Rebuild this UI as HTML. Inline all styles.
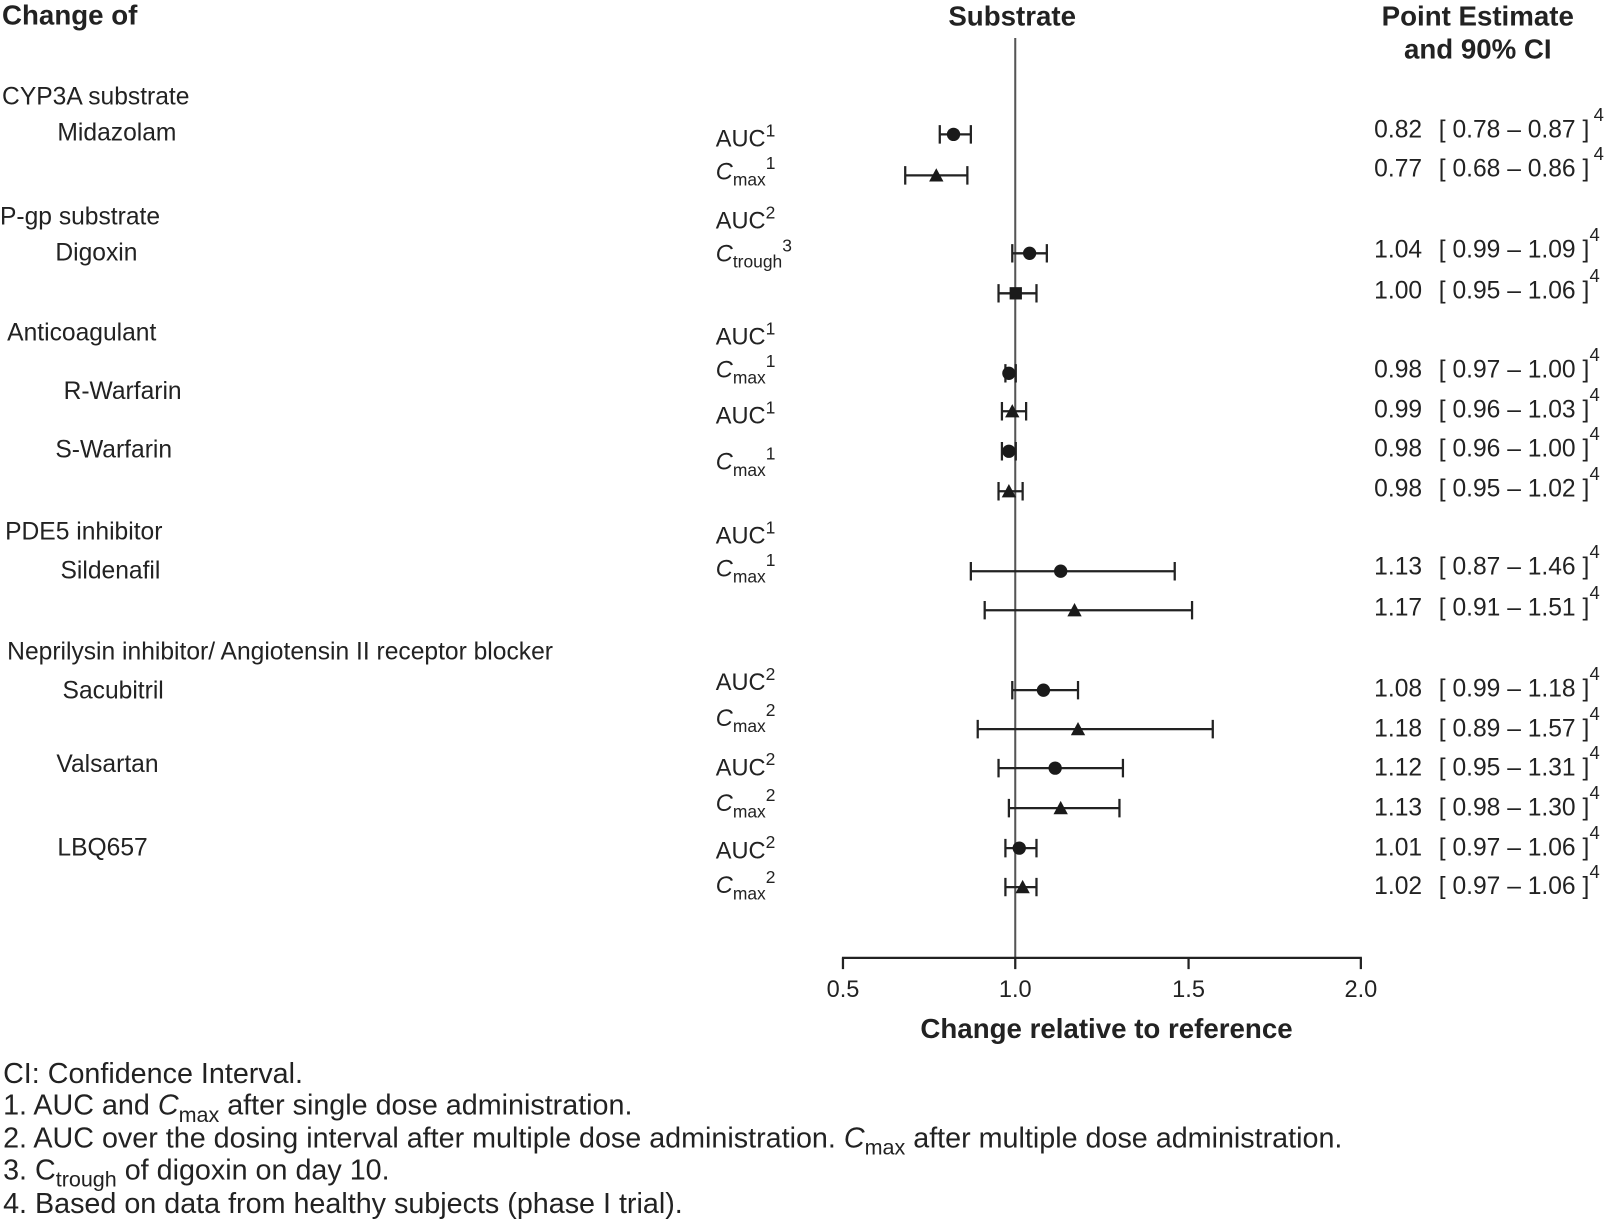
<!DOCTYPE html>
<html><head><meta charset="utf-8"><style>
html,body{margin:0;padding:0;background:#fff;}
svg{display:block;}
text{font-family:"Liberation Sans",Arial,sans-serif;fill:#222;}
.b{font-weight:bold;font-size:27px;}
.t{font-size:24px;}
.m{font-size:23px;}
.r{font-size:24px;}
.f{font-size:28px;}
.s{font-size:17px;}
.s4{font-size:18px;}
</style></head><body>
<svg width="1608" height="1221" viewBox="0 0 1568 1190.6" xmlns="http://www.w3.org/2000/svg">
<text x="2" y="24" class="b">Change of</text>
<text x="987" y="25" text-anchor="middle" class="b">Substrate</text>
<text x="1441" y="25" text-anchor="middle" class="b">Point Estimate</text>
<text x="1441" y="57" text-anchor="middle" class="b">and 90% CI</text>
<g class="t">
<text x="2" y="102">CYP3A substrate</text>
<text x="56" y="137">Midazolam</text>
<text x="0" y="219">P-gp substrate</text>
<text x="54" y="254">Digoxin</text>
<text x="7" y="332">Anticoagulant</text>
<text x="62" y="389">R-Warfarin</text>
<text x="54" y="446">S-Warfarin</text>
<text x="5" y="526">PDE5 inhibitor</text>
<text x="59" y="564">Sildenafil</text>
<text x="7" y="643">Neprilysin inhibitor/ Angiotensin II receptor blocker</text>
<text x="61" y="681">Sacubitril</text>
<text x="55" y="753">Valsartan</text>
<text x="56" y="834">LBQ657</text>
</g>
<g class="m">
<text x="698" y="143">AUC<tspan class="s" dy="-10">1</tspan></text>
<text x="698" y="175"><tspan font-style="italic">C</tspan><tspan class="s" dy="6">max</tspan><tspan class="s" dy="-16">1</tspan></text>
<text x="698" y="223">AUC<tspan class="s" dy="-10">2</tspan></text>
<text x="698" y="255"><tspan font-style="italic">C</tspan><tspan class="s" dy="6">trough</tspan><tspan class="s" dy="-16">3</tspan></text>
<text x="698" y="336">AUC<tspan class="s" dy="-10">1</tspan></text>
<text x="698" y="368"><tspan font-style="italic">C</tspan><tspan class="s" dy="6">max</tspan><tspan class="s" dy="-16">1</tspan></text>
<text x="698" y="413">AUC<tspan class="s" dy="-10">1</tspan></text>
<text x="698" y="458"><tspan font-style="italic">C</tspan><tspan class="s" dy="6">max</tspan><tspan class="s" dy="-16">1</tspan></text>
<text x="698" y="530">AUC<tspan class="s" dy="-10">1</tspan></text>
<text x="698" y="562"><tspan font-style="italic">C</tspan><tspan class="s" dy="6">max</tspan><tspan class="s" dy="-16">1</tspan></text>
<text x="698" y="673">AUC<tspan class="s" dy="-10">2</tspan></text>
<text x="698" y="708"><tspan font-style="italic">C</tspan><tspan class="s" dy="6">max</tspan><tspan class="s" dy="-16">2</tspan></text>
<text x="698" y="756">AUC<tspan class="s" dy="-10">2</tspan></text>
<text x="698" y="791"><tspan font-style="italic">C</tspan><tspan class="s" dy="6">max</tspan><tspan class="s" dy="-16">2</tspan></text>
<text x="698" y="837">AUC<tspan class="s" dy="-10">2</tspan></text>
<text x="698" y="871"><tspan font-style="italic">C</tspan><tspan class="s" dy="6">max</tspan><tspan class="s" dy="-16">2</tspan></text>
</g>
<g stroke="#555" stroke-width="2">
<line x1="990" y1="37" x2="990" y2="934"/>
</g>
<g stroke="#222" stroke-width="2.2" fill="none">
<line x1="821" y1="934" x2="1328" y2="934"/>
<line x1="822" y1="934" x2="822" y2="945"/>
<line x1="990" y1="934" x2="990" y2="945"/>
<line x1="1159" y1="934" x2="1159" y2="945"/>
<line x1="1327" y1="934" x2="1327" y2="945"/>
<path d="M916.4 131H946.7M916.4 122V140M946.7 122V140"/>
<path d="M882.7 171H943.3M882.7 162V180M943.3 162V180"/>
<path d="M987.1 247H1020.8M987.1 238V256M1020.8 238V256"/>
<path d="M973.7 286H1010.7M973.7 277V295M1010.7 277V295"/>
<path d="M980.4 364H990.5M980.4 355V373M990.5 355V373"/>
<path d="M977 401H1000.6M977 392V410M1000.6 392V410"/>
<path d="M977 440H990.5M977 431V449M990.5 431V449"/>
<path d="M973.7 479H997.2M973.7 470V488M997.2 470V488"/>
<path d="M946.7 557H1145.5M946.7 548V566M1145.5 548V566"/>
<path d="M960.2 595H1162.4M960.2 586V604M1162.4 586V604"/>
<path d="M987.1 673H1051.2M987.1 664V682M1051.2 664V682"/>
<path d="M953.4 711H1182.6M953.4 702V720M1182.6 702V720"/>
<path d="M973.7 749H1095M973.7 740V758M1095 740V758"/>
<path d="M983.8 788H1091.6M983.8 779V797M1091.6 779V797"/>
<path d="M980.4 827H1010.7M980.4 818V836M1010.7 818V836"/>
<path d="M980.4 865H1010.7M980.4 856V874M1010.7 856V874"/>
</g>
<g fill="#1a1a1a">
<circle cx="929.8" cy="131" r="6.5"/>
<polygon points="906,177 920,177 913,164"/>
<circle cx="1004" cy="247" r="6.5"/>
<rect x="984.5" y="280" width="12" height="12"/>
<circle cx="983.8" cy="364" r="6.5"/>
<polygon points="980.1,407 994.1,407 987.1,394"/>
<circle cx="983.8" cy="440" r="6.5"/>
<polygon points="976.8,485 990.8,485 983.8,472"/>
<circle cx="1034.3" cy="557" r="6.5"/>
<polygon points="1040.8,601 1054.8,601 1047.8,588"/>
<circle cx="1017.5" cy="673" r="6.5"/>
<polygon points="1044.2,717 1058.2,717 1051.2,704"/>
<circle cx="1028.9" cy="749" r="6.5"/>
<polygon points="1027.3,794 1041.3,794 1034.3,781"/>
<circle cx="993.9" cy="827" r="6.5"/>
<polygon points="990.2,871 1004.2,871 997.2,858"/>
</g>
<g class="r">
<text x="1340" y="134">0.82</text><text x="1403" y="134">[ 0.78 – 0.87 ]</text><text x="1554" y="118" class="s4">4</text>
<text x="1340" y="172">0.77</text><text x="1403" y="172">[ 0.68 – 0.86 ]</text><text x="1554" y="156" class="s4">4</text>
<text x="1340" y="251">1.04</text><text x="1403" y="251">[ 0.99 – 1.09 ]</text><text x="1550" y="235" class="s4">4</text>
<text x="1340" y="291">1.00</text><text x="1403" y="291">[ 0.95 – 1.06 ]</text><text x="1550" y="275" class="s4">4</text>
<text x="1340" y="368">0.98</text><text x="1403" y="368">[ 0.97 – 1.00 ]</text><text x="1550" y="352" class="s4">4</text>
<text x="1340" y="407">0.99</text><text x="1403" y="407">[ 0.96 – 1.03 ]</text><text x="1550" y="391" class="s4">4</text>
<text x="1340" y="445">0.98</text><text x="1403" y="445">[ 0.96 – 1.00 ]</text><text x="1550" y="429" class="s4">4</text>
<text x="1340" y="484">0.98</text><text x="1403" y="484">[ 0.95 – 1.02 ]</text><text x="1550" y="468" class="s4">4</text>
<text x="1340" y="560">1.13</text><text x="1403" y="560">[ 0.87 – 1.46 ]</text><text x="1550" y="544" class="s4">4</text>
<text x="1340" y="600">1.17</text><text x="1403" y="600">[ 0.91 – 1.51 ]</text><text x="1550" y="584" class="s4">4</text>
<text x="1340" y="679">1.08</text><text x="1403" y="679">[ 0.99 – 1.18 ]</text><text x="1550" y="663" class="s4">4</text>
<text x="1340" y="718">1.18</text><text x="1403" y="718">[ 0.89 – 1.57 ]</text><text x="1550" y="702" class="s4">4</text>
<text x="1340" y="756">1.12</text><text x="1403" y="756">[ 0.95 – 1.31 ]</text><text x="1550" y="740" class="s4">4</text>
<text x="1340" y="795">1.13</text><text x="1403" y="795">[ 0.98 – 1.30 ]</text><text x="1550" y="779" class="s4">4</text>
<text x="1340" y="834">1.01</text><text x="1403" y="834">[ 0.97 – 1.06 ]</text><text x="1550" y="818" class="s4">4</text>
<text x="1340" y="872">1.02</text><text x="1403" y="872">[ 0.97 – 1.06 ]</text><text x="1550" y="856" class="s4">4</text>
</g>
<g class="m" text-anchor="middle">
<text x="822" y="972">0.5</text>
<text x="990" y="972">1.0</text>
<text x="1159" y="972">1.5</text>
<text x="1327" y="972">2.0</text>
</g>
<text x="1079" y="1012" text-anchor="middle" class="b">Change relative to reference</text>
<g class="f">
<text x="3" y="1056">CI: Confidence Interval.</text>
<text x="3" y="1087">1. AUC and <tspan font-style="italic">C</tspan><tspan dy="7" style="font-size:21px">max</tspan><tspan dy="-7"> after single dose administration.</tspan></text>
<text x="3" y="1119">2. AUC over the dosing interval after multiple dose administration. <tspan font-style="italic">C</tspan><tspan dy="7" style="font-size:21px">max</tspan><tspan dy="-7"> after multiple dose administration.</tspan></text>
<text x="3" y="1150">3. C<tspan dy="7" style="font-size:21px">trough</tspan><tspan dy="-7"> of digoxin on day 10.</tspan></text>
<text x="3" y="1183">4. Based on data from healthy subjects (phase I trial).</text>
</g>
</svg>
</body></html>
